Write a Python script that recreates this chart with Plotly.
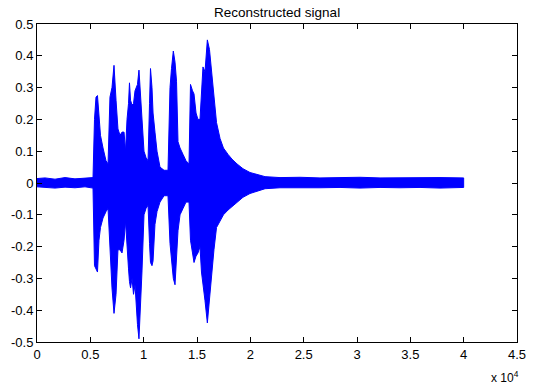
import plotly.graph_objects as go

# Envelope of the reconstructed signal (sample index, upper / lower amplitude)
samples = [0, 750, 1690, 2630, 3560, 4500, 5250, 5390, 5530, 5670, 5810, 5950, 6190, 6470, 6660,
           6840, 7030, 7220, 7410, 7590, 7780, 7970, 8160, 8300, 8440, 8580, 8670, 8770, 8910,
           9050, 9190, 9420, 9560, 9700, 9840, 10030, 10220, 10410, 10550, 10640, 10780, 10880,
           11060, 11250, 11530, 11910, 12280, 12470, 12610, 12780, 12940, 13080, 13220, 13410,
           13690, 13970, 14250, 14390, 14580, 14720, 14910, 15090, 15280, 15420, 15560, 15750,
           15970, 16170, 16360, 16590, 16830, 17160, 17480, 17910, 18280, 18750, 19310, 19970,
           20630, 21380, 22780, 24660, 26530, 28410, 30280, 32160, 34030, 35910, 37780, 40000]
upper = [0.014, 0.016, 0.012, 0.017, 0.013, 0.016, 0.017, 0.20, 0.27, 0.275, 0.20, 0.15, 0.11, 0.07, 0.06,
         0.27, 0.30, 0.37, 0.26, 0.17, 0.15, 0.16, 0.16, 0.10, 0.20, 0.25, 0.315, 0.26, 0.245,
         0.25, 0.29, 0.31, 0.355, 0.28, 0.20, 0.10, 0.08, 0.07, 0.25, 0.36, 0.30, 0.22,
         0.16, 0.10, 0.05, 0.04, 0.04, 0.30, 0.36, 0.415, 0.38, 0.32, 0.13, 0.11,
         0.09, 0.07, 0.06, 0.31, 0.29, 0.28, 0.22, 0.20, 0.20, 0.30, 0.365, 0.35,
         0.45, 0.42, 0.36, 0.27, 0.19, 0.14, 0.11, 0.09, 0.075, 0.06, 0.045, 0.033,
         0.027, 0.02, 0.017, 0.018, 0.016, 0.017, 0.018, 0.016, 0.017, 0.018, 0.017, 0.016]
lower = [-0.012, -0.014, -0.016, -0.013, -0.015, -0.012, -0.016, -0.26, -0.27, -0.28, -0.18, -0.14, -0.11, -0.09, -0.08,
         -0.20, -0.33, -0.41, -0.35, -0.21, -0.21, -0.22, -0.18, -0.12, -0.20, -0.27, -0.31, -0.33, -0.30,
         -0.35, -0.32, -0.445, -0.49, -0.39, -0.28, -0.10, -0.08, -0.07, -0.19, -0.25, -0.26, -0.245,
         -0.13, -0.09, -0.06, -0.04, -0.04, -0.19, -0.25, -0.30, -0.32, -0.24, -0.15, -0.10,
         -0.08, -0.06, -0.06, -0.18, -0.22, -0.25, -0.23, -0.22, -0.20, -0.28, -0.32, -0.37,
         -0.44, -0.38, -0.30, -0.21, -0.14, -0.12, -0.10, -0.085, -0.075, -0.06, -0.045, -0.033,
         -0.025, -0.018, -0.015, -0.014, -0.015, -0.014, -0.016, -0.014, -0.015, -0.014, -0.016, -0.014]

x_tickvals = [0, 5000, 10000, 15000, 20000, 25000, 30000, 35000, 40000, 45000]
x_ticktext = ["0", "0.5", "1", "1.5", "2", "2.5", "3", "3.5", "4", "4.5"]
y_tickvals = [-0.5, -0.4, -0.3, -0.2, -0.1, 0, 0.1, 0.2, 0.3, 0.4, 0.5]
y_ticktext = ["-0.5", "-0.4", "-0.3", "-0.2", "-0.1", "0", "0.1", "0.2", "0.3", "0.4", "0.5"]

title_text = "Reconstructed signal"
exp_text = "x 10<sup>4</sup>"

BLUE = "#0000ff"
FONT = "Liberation Sans, Arial, sans-serif"

fig = go.Figure()
fig.add_trace(go.Scatter(
    x=samples + samples[::-1],
    y=upper + lower[::-1],
    mode="lines",
    fill="toself",
    fillcolor=BLUE,
    line=dict(color=BLUE, width=1),
    hoverinfo="skip",
    showlegend=False,
))

axis_common = dict(
    showline=True, linecolor="black", linewidth=1, mirror="allticks",
    ticks="inside", ticklen=5, tickcolor="black", tickwidth=1,
    showgrid=False, zeroline=False,
    tickfont=dict(family=FONT, size=13, color="black"),
)

fig.update_layout(
    width=552, height=385,
    margin=dict(l=37, r=35, t=24, b=43),
    paper_bgcolor="white", plot_bgcolor="white",
    showlegend=False,
    xaxis=dict(range=[0, 45000], tickmode="array", tickvals=x_tickvals, ticktext=x_ticktext, **axis_common),
    yaxis=dict(range=[-0.5, 0.5], tickmode="array", tickvals=y_tickvals, ticktext=y_ticktext, **axis_common),
    title=dict(text=title_text, x=0.502, xanchor="center", y=1 - 12 / 385, yanchor="middle",
               yref="container", font=dict(family=FONT, size=13.5, color="black")),
    annotations=[dict(text=exp_text, xref="paper", yref="paper", x=0.975, y=-0.11,
                      xanchor="center", yanchor="middle", showarrow=False,
                      font=dict(family=FONT, size=12, color="black"))],
)

fig.write_html("out.html")
